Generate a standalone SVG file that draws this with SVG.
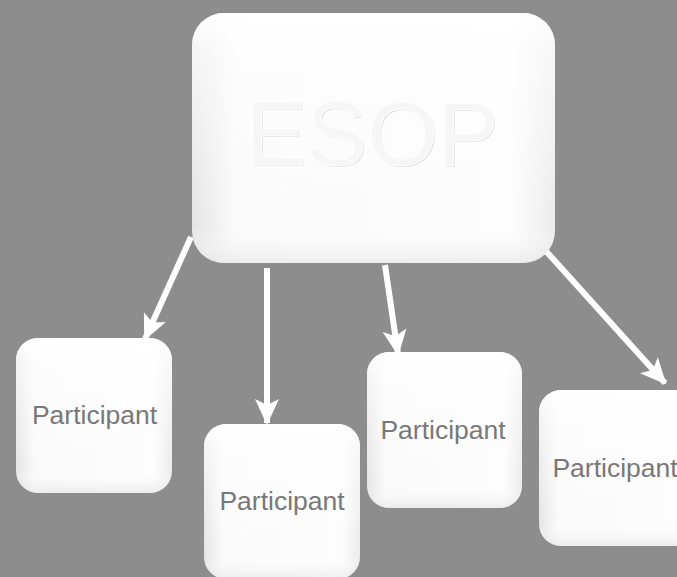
<svg xmlns="http://www.w3.org/2000/svg" width="677" height="577" viewBox="0 0 677 577">
<style>
.box{fill:url(#bev)}
.top{fill:url(#topg)}
.lbl{font-family:"Liberation Sans",Arial,sans-serif;font-size:26.5px;fill:#787878;text-anchor:middle}
.con{stroke:#fff;stroke-width:6;fill:none;marker-end:url(#ah)}
</style>
<defs>
<linearGradient id="bev" x1="0" y1="0" x2="1" y2="0">
<stop offset="0" stop-color="#e4e4e4"/>
<stop offset="0.12" stop-color="#fafafa"/>
<stop offset="0.88" stop-color="#fdfdfd"/>
<stop offset="1" stop-color="#ebebeb"/>
</linearGradient>
<linearGradient id="topg" x1="0" y1="0" x2="0" y2="1">
<stop offset="0" stop-color="#fff" stop-opacity="1"/>
<stop offset="0.15" stop-color="#fff" stop-opacity="0.6"/>
<stop offset="0.85" stop-color="#fff" stop-opacity="0"/>
<stop offset="1" stop-color="#e6e6e6" stop-opacity="0.7"/>
</linearGradient>
<marker id="ah" markerUnits="userSpaceOnUse" markerWidth="26" markerHeight="26" viewBox="0 0 26 26" refX="24" refY="13" orient="auto">
<path d="M0,1 L26,13 L0,25 L6,13 Z" fill="#fff"/>
</marker>
</defs>
<rect width="677" height="577" fill="#8c8d8c"/>
<g id="connectors">
<line class="con" x1="191" y1="237" x2="145" y2="339"/>
<line class="con" x1="267" y1="268" x2="267" y2="423"/>
<line class="con" x1="385" y1="265" x2="398" y2="354"/>
<line class="con" x1="545" y1="250" x2="665" y2="383"/>
</g>
<g id="esop">
<rect class="box" x="192" y="13" width="363" height="250" rx="32"/>
<rect class="top" x="192" y="13" width="363" height="250" rx="32"/>
<text x="373" y="166" font-family="'Liberation Sans',Arial,sans-serif" font-size="91" text-anchor="middle" fill="#d6d6d6">ESOP</text>
<text x="372" y="165" font-family="'Liberation Sans',Arial,sans-serif" font-size="91" text-anchor="middle" fill="#f6f6f6" stroke="#fdfdfd" stroke-width="1">ESOP</text>
</g>
<g id="p1">
<rect class="box" x="16" y="338" width="156" height="155" rx="22"/>
<rect class="top" x="16" y="338" width="156" height="155" rx="22"/>
<text class="lbl" x="94.5" y="424">Participant</text>
</g>
<g id="p2">
<rect class="box" x="204" y="424" width="156" height="155" rx="22"/>
<rect class="top" x="204" y="424" width="156" height="155" rx="22"/>
<text class="lbl" x="282" y="510">Participant</text>
</g>
<g id="p3">
<rect class="box" x="367" y="352" width="155" height="156" rx="22"/>
<rect class="top" x="367" y="352" width="155" height="156" rx="22"/>
<text class="lbl" x="443" y="439">Participant</text>
</g>
<g id="p4">
<rect class="box" x="539" y="390" width="156" height="156" rx="22"/>
<rect class="top" x="539" y="390" width="156" height="156" rx="22"/>
<text class="lbl" x="615" y="477">Participant</text>
</g>
</svg>
